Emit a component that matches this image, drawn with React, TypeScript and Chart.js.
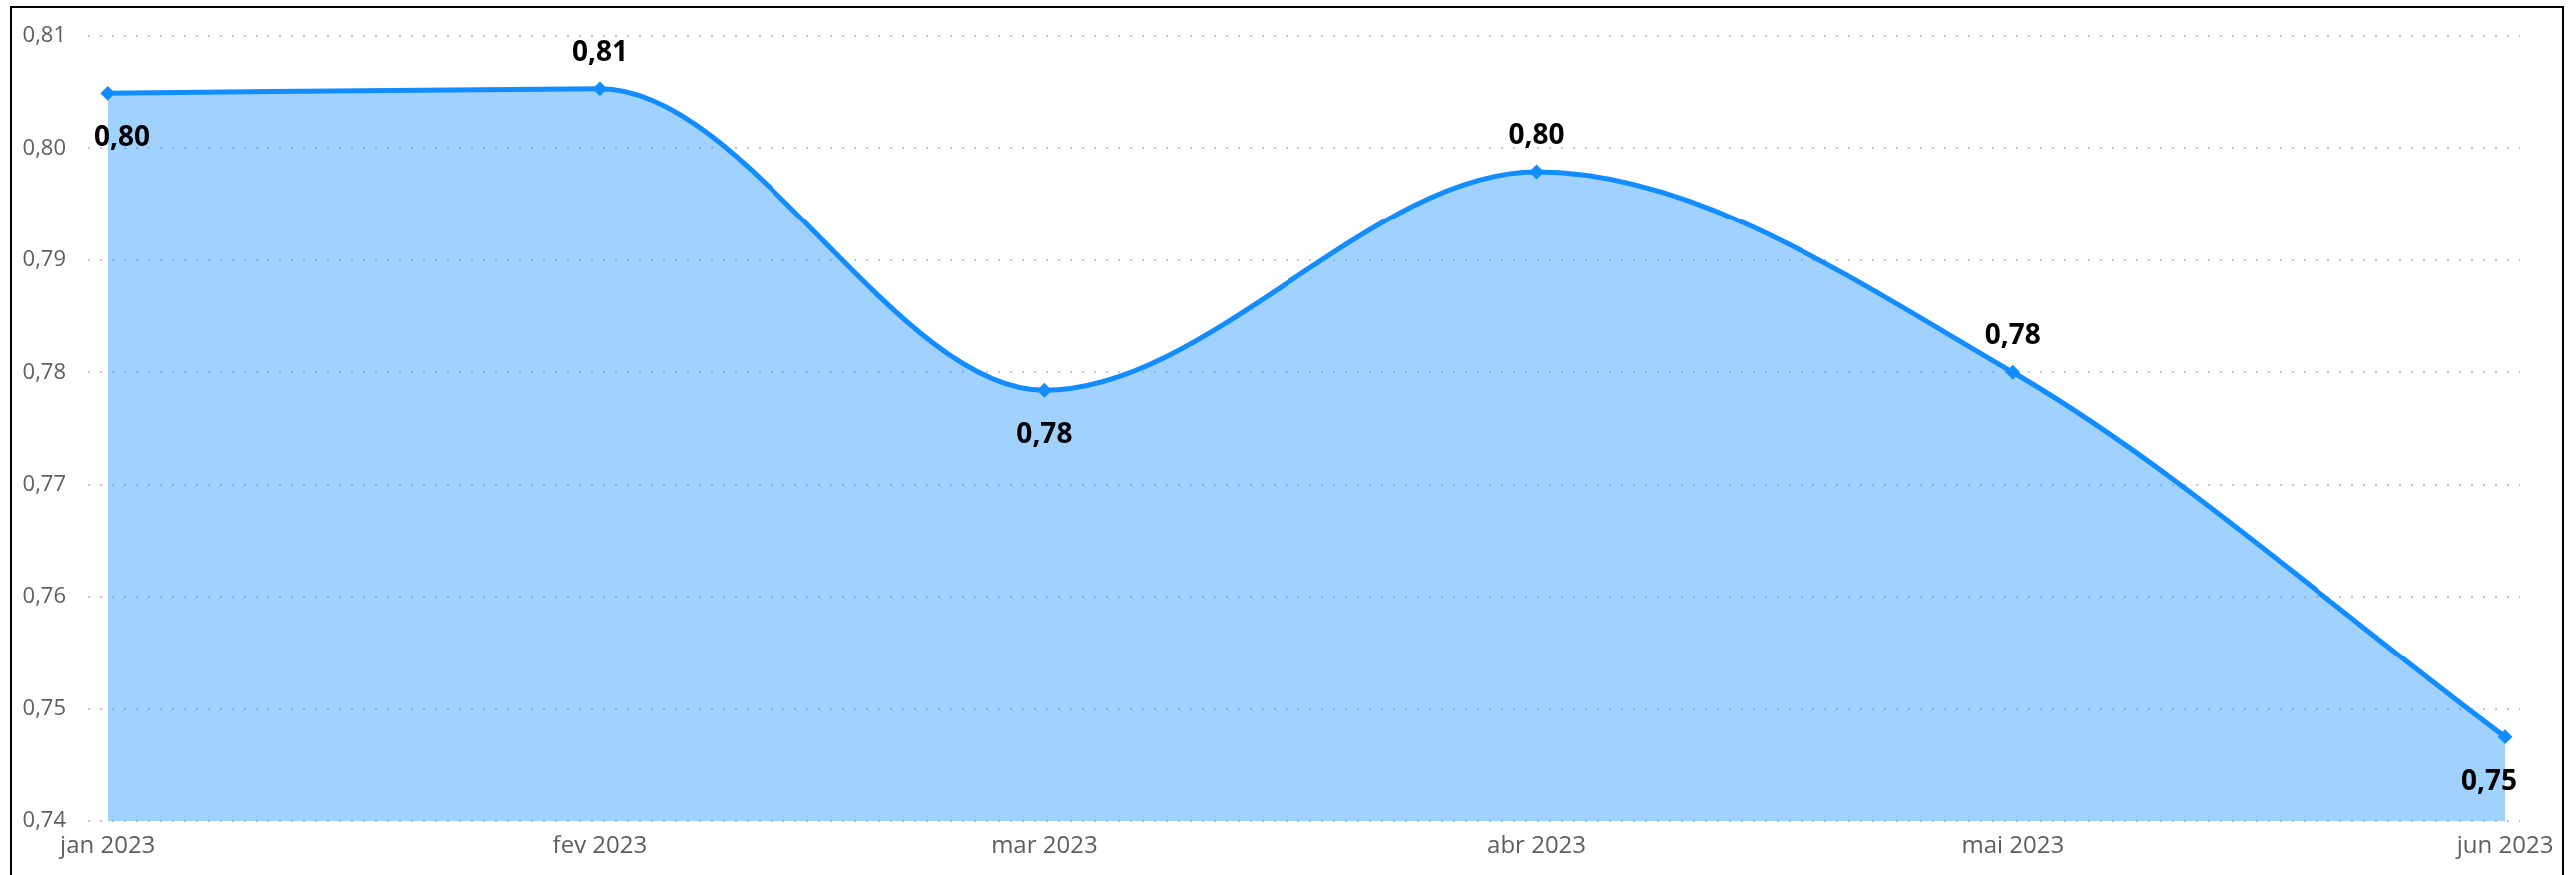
import React, { useEffect, useRef } from "react";
import { Chart, registerables } from "chart.js";

Chart.register(...registerables);

// ---- data ----
const monthDates = ["2023-01-01", "2023-02-01", "2023-03-01", "2023-04-01", "2023-05-01", "2023-06-01"];
const monthLabels = ["jan 2023", "fev 2023", "mar 2023", "abr 2023", "mai 2023", "jun 2023"];
const values = [0.8049, 0.8053, 0.7784, 0.7979, 0.7800, 0.7475];
const labelPlacement = ["below", "above", "below", "above", "above", "below"];
const yTickValues = [0.74, 0.75, 0.76, 0.77, 0.78, 0.79, 0.8, 0.81];

const DAY = 86400000;
const dayOffsets = monthDates.map((d) => (Date.parse(d) - Date.parse(monthDates[0])) / DAY);

const fmt = (v: number) => v.toFixed(2).replace(".", ",");

const LINE = "#118DFF";
const FILL = "rgba(17,141,255,0.4)";
const TICK_COLOR = "#605E5C";
const FONT = "'Open Sans', 'Segoe UI', sans-serif";

const labelPlugin = {
  id: "pointLabels",
  afterDatasetsDraw(chart: any) {
    const meta = chart.getDatasetMeta(0);
    const ctx = chart.ctx;
    const area = chart.chartArea;
    ctx.save();
    ctx.font = `bold 28px ${FONT}`;
    ctx.fillStyle = "#000000";
    ctx.textBaseline = "middle";
    ctx.textAlign = "left";
    meta.data.forEach((pt: any, i: number) => {
      const text = fmt(values[i]);
      const w = ctx.measureText(text).width;
      let x = pt.x - w / 2;
      x = Math.max(area.left + 6, Math.min(x, area.right - 3 - w));
      const y = labelPlacement[i] === "above" ? pt.y - 36 : pt.y + 45;
      ctx.fillText(text, x, y);
    });
    ctx.restore();
  },
};

export default function App() {
  const ref = useRef<HTMLCanvasElement | null>(null);

  useEffect(() => {
    if (!ref.current) return;
    const chart = new Chart(ref.current, {
      type: "line",
      data: {
        datasets: [
          {
            data: dayOffsets.map((x, i) => ({ x, y: values[i] })),
            borderColor: LINE,
            backgroundColor: FILL,
            borderWidth: 5,
            fill: "start",
            cubicInterpolationMode: "monotone",
            pointStyle: "rectRot",
            pointRadius: 6,
            pointBorderWidth: 2,
            pointBackgroundColor: LINE,
            pointBorderColor: LINE,
          },
        ],
      },
      options: {
        animation: false,
        responsive: false,
        devicePixelRatio: 1,
        layout: { padding: { left: 0, top: 36, right: 56, bottom: 0 } },
        plugins: { legend: { display: false }, tooltip: { enabled: false } },
        scales: {
          x: {
            type: "linear",
            min: dayOffsets[0] - 1.24,
            max: dayOffsets[dayOffsets.length - 1] + 0.94,
            grid: { display: false, drawTicks: false },
            border: { display: false },
            afterBuildTicks: (scale: any) => {
              scale.ticks = dayOffsets.map((v) => ({ value: v }));
            },
            afterFit: (scale: any) => {
              scale.height = 54;
            },
            ticks: {
              autoSkip: false,
              maxRotation: 0,
              padding: 11,
              color: TICK_COLOR,
              font: { family: FONT, size: 24 },
              callback: (v: any) => {
                const i = dayOffsets.indexOf(Number(v));
                return i >= 0 ? monthLabels[i] : "";
              },
            },
          },
          y: {
            min: yTickValues[0],
            max: yTickValues[yTickValues.length - 1],
            afterBuildTicks: (scale: any) => {
              scale.ticks = yTickValues.map((v) => ({ value: v }));
            },
            afterFit: (scale: any) => {
              scale.width = 88;
            },
            grid: { color: "#C8C6C4", lineWidth: 2, drawTicks: false },
            border: { display: false, dash: [2, 10] },
            ticks: {
              padding: 22,
              color: TICK_COLOR,
              font: { family: FONT, size: 22 },
              callback: (v: any) => fmt(Number(v)),
            },
          },
        },
      } as any,
      plugins: [labelPlugin],
    });
    return () => chart.destroy();
  }, []);

  return (
    <>
      <canvas
        ref={ref}
        width={2581}
        height={877}
        style={{ position: "fixed", left: 0, top: 0, width: 2581, height: 877, background: "#fff" }}
      />
      <div
        style={{
          position: "fixed",
          left: 10,
          top: 6,
          width: 2559,
          height: 1000,
          boxSizing: "border-box",
          border: "2px solid #000",
          pointerEvents: "none",
        }}
      />
    </>
  );
}
